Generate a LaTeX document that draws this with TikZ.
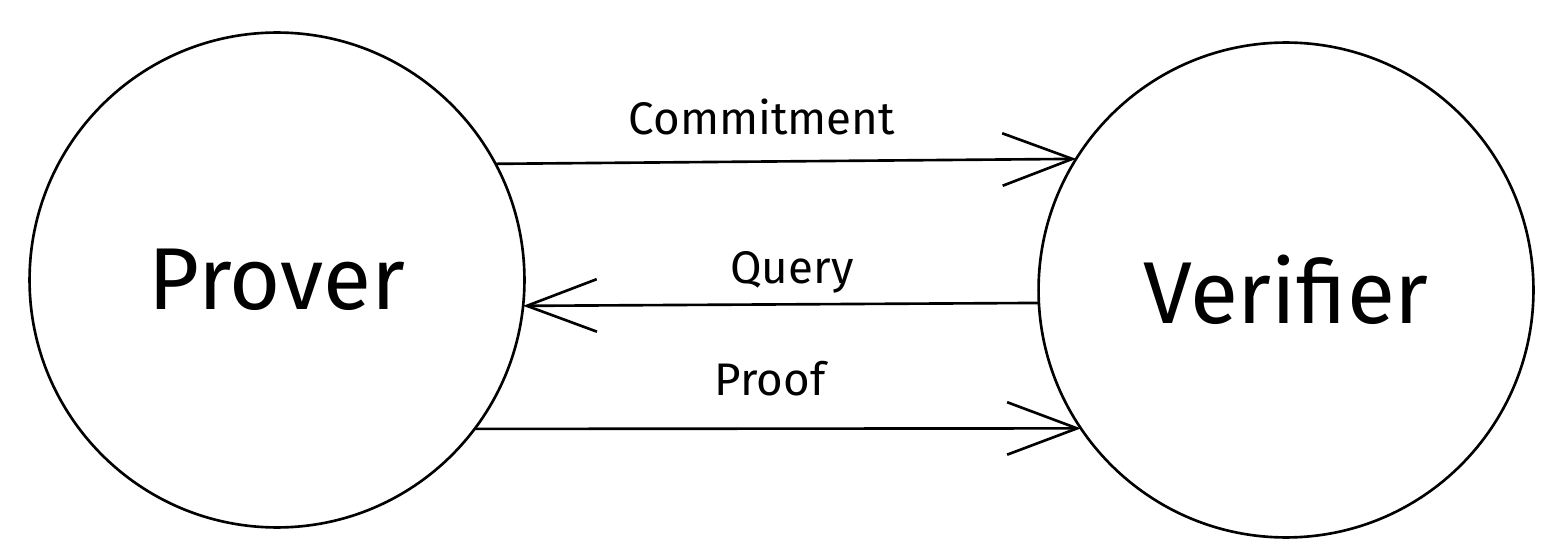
\documentclass[tikz,border=0pt]{standalone}
\usepackage{fontspec}
\setmainfont{Fira Sans}
\usetikzlibrary{arrows.meta}
\begin{document}
\begin{tikzpicture}[x=0.02cm,y=-0.02cm,
		party/.style={shape=circle,draw,line width=1.5pt,minimum size=9.9cm,inner sep=0pt,outer sep=0pt,font=\fontsize{50}{60}\selectfont},
		msg/.style={-{Straight Barb[length=1.4cm,width=1.05cm,line width=1.5pt]},line width=1.5pt},
		lbl/.style={midway,anchor=base,font=\fontsize{26}{30}\selectfont}]
		\useasboundingbox (0,0) rectangle (1564,557);
		% the two parties
		\node(prover)   [party] at (277,280) {Prover};
		\node(verifier) [party] at (1286,290) {Verifier};
		% messages
		\draw[msg] (prover.28) -- (verifier.148)
			node [lbl,xshift=-0.48cm,yshift=0.54cm] {Commitment};
		\draw[msg] (verifier.183) -- (prover.-6)
			node [lbl,xshift=0.22cm,yshift=0.42cm] {Query};
		\draw[msg] (prover.-37.6) -- (verifier.214.5)
			node [lbl,xshift=-0.15cm,yshift=0.66cm] {Proof};
	\end{tikzpicture}
\end{document}
